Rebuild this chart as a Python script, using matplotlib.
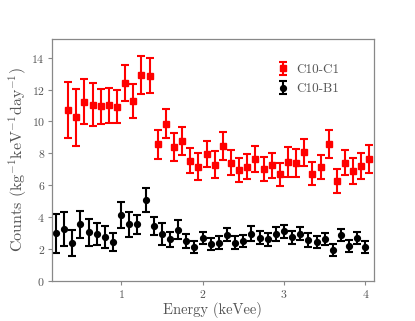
import matplotlib

matplotlib.use("Agg")
import matplotlib.pyplot as plt
import numpy as np

# C10-C1 (red) spectrum, bins centred at 0.35 ... 4.05 keVee
c1_energy = np.round(np.arange(0.35, 4.06, 0.1), 2)
c1_counts = [10.7, 10.25, 11.23, 11.06, 10.96, 11.0, 10.92, 12.44, 11.27, 12.94,
             12.88, 8.57, 9.85, 8.4, 8.75, 7.54, 7.17, 7.96, 7.29, 8.46,
             7.42, 6.96, 7.17, 7.65, 7.02, 7.25, 6.7, 7.45, 7.4, 8.06,
             6.73, 7.15, 8.58, 6.25, 7.42, 6.88, 7.21, 7.65]
c1_err = [1.75, 1.76, 1.4, 1.37, 1.1, 1.1, 1.03, 1.13, 1.08, 1.19,
          1.1, 0.92, 0.9, 0.87, 0.87, 0.8, 0.83, 0.79, 0.85, 0.87,
          0.79, 0.75, 0.77, 0.83, 0.77, 0.77, 0.72, 0.95, 0.87, 0.83,
          0.7, 0.73, 0.9, 0.77, 0.77, 0.8, 0.83, 0.87]

# C10-B1 (black) spectrum, bins centred at 0.2 ... 4.0 keVee
b1_energy = np.round(np.arange(0.2, 4.01, 0.1), 2)
b1_counts = [2.98, 3.25, 2.35, 3.54, 3.04, 2.94, 2.75, 2.44, 4.13, 3.56,
             3.54, 5.08, 3.45, 2.94, 2.62, 3.21, 2.52, 2.1, 2.69, 2.33,
             2.4, 2.9, 2.38, 2.5, 2.96, 2.71, 2.6, 2.94, 3.1, 2.73,
             2.96, 2.56, 2.44, 2.63, 1.94, 2.88, 2.19, 2.71, 2.1]
b1_err = [1.23, 1.07, 0.81, 0.86, 0.85, 0.72, 0.7, 0.56, 0.83, 0.78,
          0.6, 0.75, 0.55, 0.68, 0.47, 0.6, 0.44, 0.38, 0.4, 0.38,
          0.4, 0.43, 0.41, 0.4, 0.48, 0.42, 0.42, 0.41, 0.43, 0.42,
          0.41, 0.42, 0.4, 0.4, 0.36, 0.39, 0.38, 0.38, 0.38]

TEXT_COLOR = "#555555"
SPINE_COLOR = "#888888"

plt.rcParams["font.family"] = "serif"
plt.rcParams["font.serif"] = ["cmr10"]
plt.rcParams["mathtext.fontset"] = "cm"
plt.rcParams["axes.formatter.use_mathtext"] = True


def main():
    figure, axis = plt.subplots(figsize=(4.15, 3.21), dpi=100)
    figure.subplots_adjust(left=0.125, right=0.9, bottom=0.125, top=0.88)

    style = dict(linestyle="none", capsize=2.6, elinewidth=1.5, capthick=1.5)
    axis.errorbar(c1_energy, c1_counts, yerr=c1_err, color="#ff0000",
                  marker="s", markersize=4.4, label="C10-C1", **style)
    axis.errorbar(b1_energy, b1_counts, yerr=b1_err, color="black",
                  marker="o", markersize=4.2, label="C10-B1", **style)

    axis.set_xlim(0.15, 4.1)
    axis.set_ylim(0, 15.2)
    axis.set_xticks([1, 2, 3, 4])
    axis.set_yticks(range(0, 15, 2))

    axis.set_xlabel("Energy (keVee)", fontsize=10.5, color=TEXT_COLOR, labelpad=1.5)
    axis.set_ylabel(r"Counts (kg$^{-1}$keV$^{-1}$day$^{-1}$)", fontsize=11.5,
                    color=TEXT_COLOR, labelpad=2)
    axis.tick_params(colors=SPINE_COLOR, labelcolor=TEXT_COLOR, labelsize=8.5,
                     length=3, width=0.8, pad=2)
    for spine in axis.spines.values():
        spine.set_color(SPINE_COLOR)
        spine.set_linewidth(0.9)

    legend = axis.legend(loc="upper right", bbox_to_anchor=(0.93, 0.945),
                         frameon=False, fontsize=9.5, handlelength=0.8,
                         handletextpad=0.6, labelspacing=0.55)
    for text in legend.get_texts():
        text.set_color(TEXT_COLOR)

    figure.savefig("out.png", dpi=100)
    plt.close(figure)


if __name__ == "__main__":
    main()
